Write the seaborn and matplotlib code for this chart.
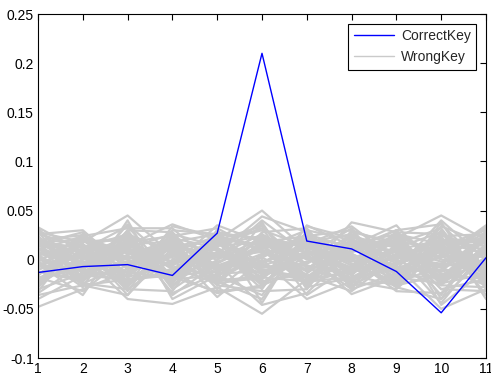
import numpy as np
import pandas as pd
import matplotlib
matplotlib.use('Agg')
import matplotlib.pyplot as plt
import seaborn as sns
from matplotlib.ticker import FormatStrFormatter

# positions on the x axis
positions = list(range(1, 12))

# correlation of the correct key
correct_key = [-0.013, -0.007, -0.005, -0.016, 0.027, 0.210, 0.019, 0.011, -0.012, -0.054, 0.002]

# correlation of wrong key guesses (read approximately from the grey band)
wrong_keys = [
    [0.012, -0.005, 0.020, -0.010, 0.008, -0.015, 0.022, 0.004, -0.012, 0.018, 0.006],
    [-0.020, 0.010, -0.008, 0.015, -0.018, 0.025, -0.006, -0.014, 0.010, -0.022, 0.014],
    [0.028, 0.018, 0.045, 0.005, -0.010, 0.012, 0.030, 0.020, -0.004, 0.008, -0.012],
    [-0.048, -0.030, -0.012, -0.020, 0.004, -0.010, -0.018, 0.008, 0.016, -0.030, -0.020],
    [0.005, -0.022, 0.014, 0.036, 0.020, 0.050, 0.010, -0.008, 0.022, 0.045, 0.020],
    [-0.010, 0.004, -0.040, -0.045, -0.028, -0.055, -0.020, -0.012, -0.006, -0.050, -0.030],
    [0.020, 0.025, 0.002, -0.006, 0.035, 0.018, -0.012, 0.038, 0.028, 0.002, 0.035],
    [-0.030, -0.014, 0.024, 0.010, -0.038, 0.000, -0.040, -0.022, -0.030, 0.012, -0.004],
    [0.033, 0.008, -0.018, 0.022, 0.012, -0.030, 0.035, 0.014, 0.035, -0.016, 0.010],
    [-0.004, -0.036, 0.030, -0.030, 0.000, 0.040, 0.006, -0.035, -0.018, 0.030, -0.040],
    [0.016, 0.028, -0.025, 0.008, 0.024, -0.008, -0.004, 0.026, 0.004, -0.008, 0.024],
    [-0.024, 0.000, 0.008, -0.016, -0.012, 0.016, 0.018, -0.004, -0.024, 0.022, -0.016],
    [0.000, 0.016, -0.032, 0.028, -0.022, -0.040, 0.024, 0.030, 0.014, -0.036, 0.028],
    [0.024, -0.018, 0.036, -0.004, 0.016, 0.032, -0.028, -0.018, -0.010, 0.040, 0.000],
    [-0.016, 0.022, -0.004, 0.018, -0.030, 0.006, 0.012, 0.000, 0.024, -0.026, -0.028],
    [0.008, -0.010, 0.018, -0.024, 0.030, -0.022, -0.014, 0.018, -0.020, 0.014, 0.030],
    [-0.036, -0.026, -0.036, 0.012, 0.006, 0.044, 0.028, -0.028, 0.006, -0.044, 0.012],
    [0.018, 0.012, 0.026, -0.036, -0.004, -0.046, -0.034, 0.010, 0.030, 0.036, -0.008],
    [-0.008, 0.020, -0.014, 0.030, 0.026, 0.022, 0.002, -0.030, -0.014, -0.004, 0.018],
    [0.030, -0.008, 0.010, -0.014, -0.034, -0.026, 0.016, 0.034, 0.000, 0.024, -0.036],
    [-0.026, 0.026, -0.022, 0.004, 0.014, 0.036, -0.024, -0.010, 0.020, -0.020, 0.022],
    [0.004, -0.028, 0.040, -0.040, -0.016, -0.036, 0.020, 0.006, -0.028, -0.040, 0.004],
    [0.020, 0.006, -0.028, 0.024, 0.032, 0.008, -0.010, 0.024, 0.012, 0.028, -0.024],
    [-0.012, -0.020, 0.016, -0.008, -0.024, 0.028, 0.032, -0.020, -0.008, -0.012, 0.026],
    [0.026, 0.030, -0.010, 0.016, 0.010, -0.018, -0.022, 0.016, 0.026, 0.016, -0.014],
    [-0.034, -0.004, 0.028, -0.028, 0.022, 0.014, 0.008, -0.026, -0.022, 0.034, 0.016],
    [0.014, 0.014, -0.036, 0.020, -0.026, -0.032, -0.030, 0.028, 0.018, -0.030, -0.032],
    [-0.018, -0.032, 0.004, -0.020, 0.018, 0.030, 0.014, -0.016, -0.026, 0.006, 0.032],
    [0.010, 0.024, 0.032, 0.032, -0.008, -0.004, 0.026, 0.012, 0.030, -0.046, -0.010],
    [-0.040, -0.016, -0.020, -0.012, 0.028, 0.020, -0.016, -0.032, 0.002, 0.020, 0.020],
    [0.022, 0.002, 0.012, 0.026, -0.020, -0.020, 0.034, 0.022, -0.016, -0.018, -0.018],
    [-0.002, -0.024, -0.030, 0.000, 0.004, 0.026, -0.036, -0.006, 0.028, 0.026, 0.008],
    [-0.028, 0.018, 0.022, -0.034, -0.014, -0.012, 0.004, 0.032, -0.024, -0.006, 0.034],
    [0.032, -0.012, -0.016, 0.014, 0.020, 0.034, -0.008, -0.024, 0.016, 0.032, -0.026],
    [0.006, 0.010, 0.034, -0.018, -0.032, -0.028, 0.020, 0.002, -0.032, -0.034, 0.010],
    [-0.022, -0.002, -0.026, 0.034, 0.024, 0.010, -0.026, 0.020, 0.008, 0.010, -0.006],
    [0.015, -0.012, 0.005, 0.020, -0.006, 0.002, -0.018, 0.010, 0.020, -0.014, -0.020],
    [-0.006, 0.016, -0.018, -0.002, 0.012, -0.024, 0.010, -0.020, 0.004, 0.018, 0.018],
    [0.022, -0.020, 0.010, 0.012, -0.014, 0.018, 0.024, 0.006, -0.018, -0.024, 0.002],
    [-0.014, 0.006, 0.022, -0.022, 0.018, -0.006, -0.010, 0.024, -0.002, 0.004, -0.022],
    [0.002, -0.016, -0.012, 0.006, -0.004, 0.020, 0.016, -0.012, 0.022, -0.018, 0.024],
    [0.018, 0.020, 0.000, -0.018, 0.022, -0.014, -0.002, 0.014, -0.016, 0.022, -0.010],
    [-0.020, -0.006, 0.018, 0.024, -0.020, 0.004, 0.020, -0.024, 0.012, -0.002, 0.006],
    [0.010, 0.002, -0.022, -0.012, 0.016, 0.024, -0.020, 0.004, -0.022, 0.012, -0.016],
    [-0.002, 0.024, 0.006, 0.002, -0.024, -0.018, 0.006, 0.018, 0.018, -0.020, 0.012],
    [0.024, -0.024, -0.006, 0.016, 0.002, 0.008, -0.016, -0.008, -0.006, 0.024, 0.026],
    [-0.024, 0.012, 0.012, -0.006, 0.020, -0.020, 0.022, -0.016, 0.026, 0.000, -0.002],
    [0.006, -0.002, -0.016, 0.022, -0.010, 0.016, -0.024, 0.022, -0.012, -0.010, 0.020],
    [-0.016, 0.018, 0.020, -0.026, 0.008, -0.002, 0.012, -0.002, 0.010, 0.020, -0.024],
    [0.020, -0.014, -0.002, 0.004, -0.018, 0.026, 0.000, 0.016, -0.026, -0.016, 0.008],
    [-0.010, 0.008, 0.016, 0.018, 0.026, -0.010, -0.022, -0.018, 0.006, 0.014, -0.012],
    [0.012, -0.026, -0.020, -0.016, -0.002, 0.012, 0.018, 0.026, -0.010, -0.026, 0.016],
    [-0.022, 0.022, 0.002, 0.010, 0.010, -0.026, -0.008, 0.008, 0.024, 0.006, -0.018],
    [0.016, 0.000, 0.024, -0.020, -0.016, 0.002, 0.026, -0.026, -0.004, 0.026, 0.004],
    [-0.004, -0.018, -0.010, 0.026, 0.014, 0.018, -0.012, 0.012, 0.016, -0.008, -0.026],
    [0.026, 0.014, 0.014, -0.002, -0.022, -0.016, 0.008, -0.010, -0.020, 0.016, 0.022],
    [-0.018, -0.010, -0.024, 0.014, 0.000, 0.022, -0.004, 0.020, 0.000, -0.022, 0.000],
    [0.004, 0.020, 0.008, -0.024, 0.024, -0.004, 0.016, -0.006, 0.020, 0.008, -0.020],
    [-0.012, -0.022, 0.026, 0.008, -0.008, 0.014, -0.026, 0.006, -0.014, 0.018, 0.014],
    [0.014, 0.010, -0.014, -0.010, 0.018, -0.024, 0.004, -0.022, 0.014, -0.012, -0.004],
    [-0.026, 0.004, 0.000, 0.020, -0.012, 0.006, 0.022, 0.014, -0.008, 0.002, 0.028],
    [0.008, -0.008, 0.020, -0.004, 0.006, -0.008, -0.006, -0.014, 0.028, -0.024, -0.014],
    [-0.008, 0.026, -0.008, 0.012, -0.026, 0.020, 0.014, 0.000, -0.028, 0.020, 0.010],
    [0.018, -0.004, 0.004, -0.014, 0.012, -0.012, -0.018, 0.018, 0.002, -0.004, -0.008],
    [0.000, -0.012, -0.004, 0.006, -0.006, 0.010, 0.002, -0.008, -0.004, 0.010, 0.002],
    [-0.006, 0.006, 0.010, -0.008, 0.004, -0.006, 0.008, 0.002, 0.008, -0.006, -0.004],
    [0.028, -0.020, 0.030, 0.028, -0.024, 0.038, -0.030, 0.030, -0.026, 0.038, -0.030],
    [-0.032, 0.024, -0.030, -0.032, 0.030, -0.044, 0.030, -0.030, 0.030, -0.040, 0.030],
]

# long table for seaborn
rows = []
for k, vals in enumerate(wrong_keys):
    for p, v in zip(positions, vals):
        rows.append({'key': k, 'x': p, 'corr': v})
df_wrong = pd.DataFrame(rows)
df_correct = pd.DataFrame({'x': positions, 'corr': correct_key})

sns.set_style('white')
plt.rcParams['font.family'] = ['Liberation Sans', 'DejaVu Sans']
plt.rcParams['font.size'] = 10

fig = plt.figure(figsize=(4.91, 3.79), dpi=100)
ax = fig.add_axes([38 / 491, 21 / 379, 448 / 491, 344 / 379])

sns.lineplot(data=df_wrong, x='x', y='corr', units='key', estimator=None,
             color='#cacaca', lw=1.6, ax=ax, legend=False)
sns.lineplot(data=df_correct, x='x', y='corr', color='#0000ff', lw=1.0, ax=ax)

ax.set_xlim(1, 11)
ax.set_ylim(-0.1, 0.25)
ax.set_xticks(positions)
ax.set_yticks(np.arange(-0.1, 0.2501, 0.05))
ax.yaxis.set_major_formatter(FormatStrFormatter('%g'))
ax.set_xlabel('')
ax.set_ylabel('')
ax.tick_params(direction='in', length=4, width=0.8, top=True, right=True,
               colors='black', labelsize=10, pad=3)
for s in ax.spines.values():
    s.set_visible(True)
    s.set_color('black')
    s.set_linewidth(0.8)

handles = [ax.lines[-1], ax.lines[0]]
leg = ax.legend(handles, ['CorrectKey', 'WrongKey'], loc='upper right',
                fancybox=False, edgecolor='black', framealpha=1,
                borderaxespad=0.7, handlelength=2.9, handletextpad=0.5,
                fontsize=10)
leg.get_frame().set_linewidth(0.8)
leg.get_lines()[1].set_linewidth(1.0)

fig.savefig('out.png', dpi=100)
